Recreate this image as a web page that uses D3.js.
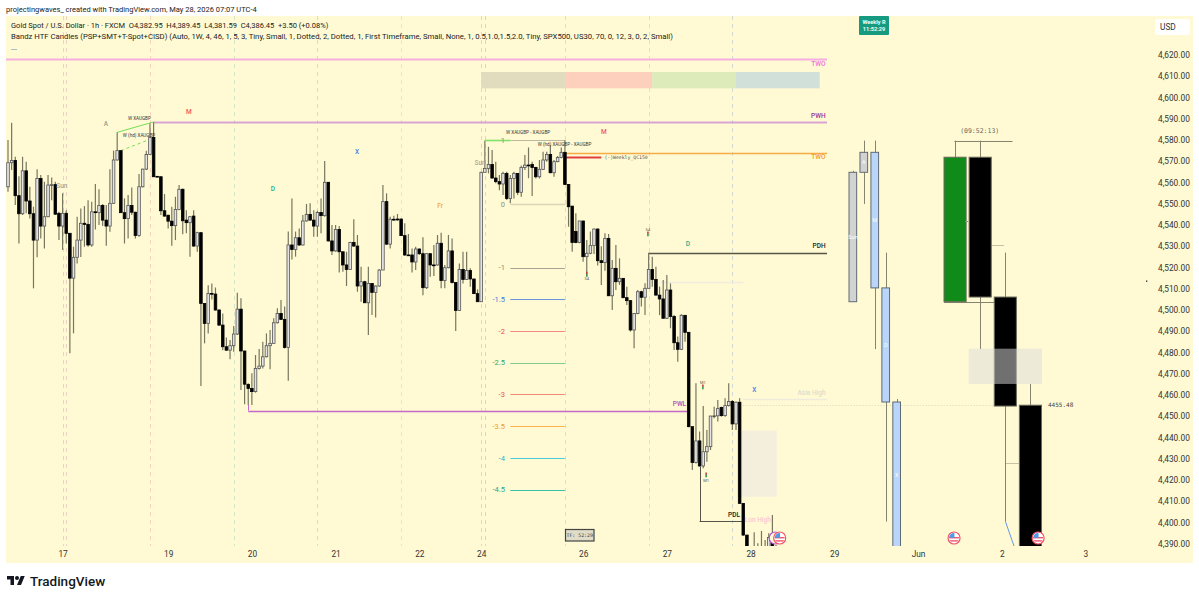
<!DOCTYPE html>
<html>
<head>
<meta charset="utf-8">
<title>XAUUSD 1h</title>
<script src="https://cdn.jsdelivr.net/npm/d3@7/dist/d3.min.js"></script>
<style>
html,body{margin:0;padding:0;background:#fff;}
svg{display:block;}
text{font-family:Roboto,"Open Sans",sans-serif;}
</style>
</head>
<body>
<svg id="chart" width="1199" height="600"></svg>
<script>
// Hourly gold candles, one entry per bar
const opens = [
4558.0,4569.3,4570.4,4553.8,4545.3,4565.5,4551.3,4545.3,4532.9,4561.9,
4539.5,4543.9,4558.8,4559.0,4545.5,4539.5,4545.5,4536.1,4515.0,4524.8,
4532.9,4540.8,4540.3,4530.6,4546.2,4545.8,4549.2,4542.3,4539.5,4550.2,
4570.6,4575.0,4545.8,4543.0,4549.2,4546.0,4535.1,4558.0,4566.3,4573.2,
4581.2,4562.9,4562.7,4546.7,4544.6,4541.8,4539.7,4547.3,4556.8,4542.3,
4541.1,4544.2,4530.1,4536.4,4503.1,4493.7,4507.8,4507.5,4500.0,4492.9,
4482.7,4481.1,4483.2,4488.7,4500.4,4480.7,4465.0,4463.1,4461.6,4472.5,
4473.6,4478.0,4483.2,4484.3,4494.0,4498.4,4495.6,4482.4,4530.6,4528.5,
4534.0,4530.6,4541.9,4545.0,4542.3,4539.5,4545.9,4544.4,4560.1,4532.5,
4527.8,4537.9,4527.4,4521.2,4519.1,4531.8,4530.1,4511.3,4513.3,4503.4,
4512.5,4508.3,4511.3,4518.8,4551.0,4531.0,4542.7,4542.8,4542.8,4535.0,
4525.9,4525.9,4522.6,4528.7,4526.5,4510.5,4526.5,4521.2,4521.2,4531.4,
4513.9,4519.9,4527.8,4512.9,4499.8,4519.1,4514.4,4518.6,4514.6,4507.7,
4503.9,4564.8,4566.6,4568.5,4562.1,4560.4,4559.3,4564.3,4552.5,4561.9,
4564.3,4555.4,4567.1,4568.2,4568.5,4567.1,4562.7,4566.2,4570.6,4573.2,
4564.6,4569.8,4571.8,4574.2,4559.1,4548.9,4536.9,4531.8,4541.9,4525.1,
4526.7,4530.3,4538.1,4523.2,4522.3,4533.7,4506.7,4519.6,4513.3,4514.9,
4505.8,4504.4,4490.6,4498.4,4508.6,4506.0,4510.2,4519.1,4514.4,4507.0,
4505.2,4496.1,4509.4,4496.9,4484.6,4481.5,4497.5,4489.5,4445.1,4428.2,
4438.4,4426.6,4433.3,4435.7,4450.1,4450.2,4454.1,4450.3,4455.0,4456.9,
4446.4,4456.6,4409.0,4394.1,4385,4384,4383,4382,4381,4385,4390.2,4382.95];
const highs = [
4580.0,4588.1,4572.1,4563.0,4572.1,4569.8,4558.0,4548.6,4566.2,4563.5,
4560.4,4563.5,4562.4,4560.4,4546.2,4554.9,4547.0,4536.1,4529.8,4543.9,
4547.8,4548.9,4551.7,4551.0,4559.3,4556.8,4549.9,4549.4,4566.2,4575.0,
4583.6,4575.0,4552.5,4554.1,4557.7,4546.2,4564.0,4566.5,4575.0,4587.8,
4588.4,4563.0,4562.9,4554.6,4544.8,4548.6,4553.3,4558.8,4557.2,4547.0,
4544.2,4547.0,4536.8,4536.4,4503.1,4511.7,4512.5,4510.6,4500.3,4498.4,
4487.1,4485.9,4492.5,4508.1,4505.5,4480.8,4465.5,4470.2,4478.8,4481.6,
4485.1,4489.0,4490.6,4496.1,4500.8,4504.7,4501.6,4536.9,4552.5,4536.9,
4538.4,4544.7,4549.9,4550.2,4547.0,4546.7,4552.5,4570.1,4560.1,4540.0,
4540.0,4539.5,4527.4,4527.4,4532.1,4542.7,4535.3,4520.4,4513.8,4520.4,
4512.5,4511.5,4519.3,4558.8,4554.9,4543.9,4544.4,4545.2,4543.1,4540.8,
4535.8,4529.0,4529.8,4529.0,4534.2,4526.7,4526.7,4530.6,4535.3,4536.4,
4521.2,4535.3,4533.7,4512.9,4521.9,4527.4,4527.4,4519.6,4514.6,4509.7,
4565.1,4579.7,4576.8,4575.3,4569.8,4563.5,4565.1,4565.1,4563.5,4565.1,
4564.3,4568.0,4572.9,4576.5,4569.8,4567.4,4570.6,4574.5,4574.5,4577.6,
4570.6,4572.5,4576.5,4580.0,4559.1,4549.0,4545.5,4541.9,4541.9,4532.9,
4536.9,4538.4,4538.4,4530.0,4536.1,4535.8,4523.5,4530.6,4524.3,4514.9,
4511.0,4504.7,4498.4,4509.4,4509.1,4512.6,4527.0,4525.1,4520.4,4511.0,
4514.1,4516.5,4512.5,4497.6,4487.5,4498.0,4497.5,4489.5,4445.1,4465.5,
4442.8,4454.8,4443.5,4450.2,4454.5,4457.7,4454.5,4458.5,4465.5,4457.7,
4456.9,4458.5,4409.0,4394.1,4385,4395.4,4390.2,4396,4391.8,4394.9,4403.5,4389.45];
const lows = [
4555.7,4565.9,4549.4,4531.3,4544.7,4545.5,4543.1,4510.2,4524.8,4533.7,
4529.0,4543.6,4551.7,4544.7,4532.9,4528.2,4531.3,4479.6,4489.0,4521.9,
4525.0,4529.8,4529.8,4529.8,4537.9,4540.0,4539.5,4530.2,4536.8,4550.0,
4570.4,4545.6,4531.3,4533.7,4544.7,4533.7,4534.5,4557.7,4565.9,4572.9,
4562.7,4562.5,4544.7,4543.9,4538.4,4530.2,4532.9,4547.0,4535.7,4536.1,
4525.1,4529.8,4527.4,4464.2,4484.3,4489.0,4505.0,4499.7,4492.5,4481.1,
4480.8,4476.8,4480.4,4488.2,4462.3,4455.7,4455.3,4455.3,4461.1,4472.0,
4472.5,4477.7,4472.1,4484.3,4493.7,4495.3,4481.9,4466.7,4523.8,4525.1,
4530.1,4530.4,4541.6,4542.0,4534.5,4534.5,4536.1,4543.9,4532.2,4525.9,
4527.4,4517.7,4518.0,4511.3,4518.8,4529.8,4508.6,4503.9,4503.4,4488.2,
4497.6,4496.5,4511.0,4518.8,4530.6,4529.0,4542.0,4542.0,4534.8,4525.4,
4525.7,4517.6,4518.8,4525.9,4507.0,4509.9,4515.7,4516.0,4520.9,4510.2,
4510.2,4519.6,4512.5,4490.1,4499.7,4512.5,4514.1,4511.0,4507.5,4503.9,
4503.9,4564.8,4564.3,4561.9,4559.6,4556.4,4554.1,4551.8,4550.2,4552.5,
4554.1,4553.3,4565.9,4562.0,4553.6,4561.9,4561.9,4565.9,4569.8,4564.3,
4562.7,4569.5,4571.4,4558.8,4539.2,4527.4,4531.4,4531.4,4522.7,4515.7,
4526.2,4526.4,4520.9,4511.8,4518.5,4506.6,4500.0,4509.4,4511.8,4505.5,
4502.3,4489.8,4482.0,4498.0,4501.6,4497.6,4510.2,4511.0,4507.0,4497.6,
4496.1,4495.8,4491.4,4481.2,4475.7,4481.2,4485.1,4444.8,4424.7,4427.8,
4426.3,4425.5,4428.6,4434.1,4449.1,4447.5,4449.8,4449.8,4454.6,4443.5,
4443.5,4409.0,4393.6,4383,4380,4380,4380,4380,4380,4380,4380,4381.59];
const closes = [
4569.3,4570.4,4553.8,4545.3,4565.5,4551.3,4545.3,4532.9,4561.9,4539.5,
4543.9,4558.8,4559.0,4545.1,4539.5,4545.5,4536.1,4515.0,4524.8,4532.9,
4540.8,4540.3,4530.6,4546.2,4546.0,4549.2,4542.3,4539.5,4550.2,4570.6,
4575.0,4545.8,4543.0,4549.2,4546.0,4535.1,4558.0,4566.3,4573.2,4581.2,
4562.7,4562.7,4546.7,4544.2,4541.8,4539.7,4547.3,4556.8,4542.0,4541.1,
4543.9,4530.1,4536.4,4503.1,4493.7,4507.8,4507.5,4500.0,4492.9,4482.7,
4481.1,4483.2,4488.7,4500.4,4480.7,4465.1,4463.1,4461.6,4472.5,4473.6,
4478.0,4483.2,4484.3,4494.0,4498.4,4495.6,4482.4,4530.6,4528.5,4534.0,
4530.6,4541.9,4545.0,4542.3,4539.5,4545.9,4544.4,4560.1,4532.5,4527.8,
4537.9,4527.4,4521.2,4519.1,4531.8,4530.1,4511.3,4513.3,4503.4,4512.5,
4508.3,4511.3,4518.8,4551.0,4531.0,4542.7,4542.4,4542.4,4535.0,4525.9,
4525.8,4522.6,4528.7,4526.5,4510.5,4526.5,4521.2,4521.0,4531.4,4513.9,
4519.9,4527.8,4512.9,4499.8,4519.1,4514.4,4518.6,4514.6,4507.7,4503.9,
4564.8,4566.6,4568.5,4562.1,4560.4,4559.3,4564.3,4552.5,4561.9,4564.3,
4555.4,4567.1,4568.2,4568.0,4567.1,4562.7,4566.2,4570.6,4573.2,4564.6,
4569.8,4571.8,4574.2,4559.1,4548.6,4531.8,4531.8,4541.9,4525.1,4526.7,
4530.3,4538.1,4523.2,4522.3,4533.7,4506.7,4519.6,4513.3,4514.9,4505.8,
4504.4,4490.6,4498.4,4508.6,4506.0,4510.2,4519.1,4514.4,4507.0,4505.2,
4496.1,4509.4,4496.9,4484.6,4481.5,4497.5,4489.5,4445.1,4428.2,4438.4,
4426.6,4433.3,4435.7,4450.1,4450.2,4453.6,4450.3,4455.0,4456.9,4446.4,
4456.6,4409.0,4394.1,4385,4384,4383,4382,4381,4385,4393,4383,4386.45];

// Price and time axes
const priceTicks = d3.range(4390, 4621, 10);
const dayTickBars = [15,44,67,90,113,130,158,181,204,227,250,273,296];
const dayLabels = ["17","19","20","21","22","24","26","27","28","29","Jun","2","3"];

// Session separators: bar index and tint
const sessionBars = [15,16,39,62,85,108,130,131,153,176,199];
const sessionTints = ["#ead3c8","#ead3c8","#fbd2bd","#d3e6c6","#d6dad0","#f9e0b5","#dcd8c4","#dcd8c4","#fbd2bd","#d3e6c6","#d0dbd8"];

// Weekly range strip across the top
const stripStart = [130,153,177,200];
const stripEnd = [153,177,200,223];
const stripHigh = 4612, stripLow = 4604.3;
const stripFill = ["#e0dcbd","#fcd0bd","#dcebb9","#d2e0da"];

// Fibonacci extension levels from the weekly swing
const fibLabels = ["1","0","-1","-1.5","-2","-2.5","-3","-3.5","-4","-4.5"];
const fibPrices = [4579.8,4549.9,4520.0,4505.1,4490.1,4475.2,4460.3,4445.3,4430.4,4415.5];
const fibLine = ["#bdb9a0","#d9d5b9","#a8a392","#6a93dc","#f08a84","#84cc8a","#f08a78","#f6b44a","#4accdf","#35c2a6"];
const fibText = ["#8f8f80","#8f8f80","#8a8a7c","#3f78e0","#e2504f","#2fa765","#e2504f","#f09a1e","#1fb4d4","#1aa88e"];

// Reference lines: [price, from bar, to bar]
const refPrices = [4618.1,4588.5,4574.1,4526.8,4452.7,4400.5,4458.1,4513.2,4572.0];
const refFrom = [-2,40,153,176,66,190,202,179,153];
const refTo = [225,225,225,225,187,202,225,202,163];
const refStroke = ["#f5aee0","#d9a3d3","#f6ac45","#55554a","#c568c8","#55554a","#efebdc","#f0ecdf","#e0403f"];
const refThick = [2,2,1.5,1.3,1.3,1,1.5,1.5,2];

// Line end tags
const tagText = ["TWO","PWH","TWO","PDH","Asia High"];
const tagPrice = [4615.8,4591.3,4572.0,4530.1,4461.0];
const tagFill = ["#ee70dd","#9b2f9b","#f39a2a","#222","#dedacb"];

// Session letters over the candles
const sessText = ["M","A","D","X","Fr","Sun","Sun","M","D","X"];
const sessBar = [49.7,26.9,72.8,95.9,118.7,14.8,129.7,163.7,186.8,205];
const sessPrice = [4593.2,4588,4557.4,4574.8,4549.4,4558.8,4569.6,4584.2,4531.5,4462.8];
const sessFill = ["#ee5a5a","#9a9a8c","#27a98a","#4d7de8","#f3a63a","#a9a99c","#a9a99c","#ee5a5a","#27a98a","#4d7de8"];

// Divergence captions
const smtText = ["W XAUGBP","W (hd) XAUGBP","W XAUGBP - XAUGBP","W (hd) XAUGBP - XAUGBP"];
const smtBar = [36.1,36,142.9,152.9];
const smtPrice = [4589.9,4581.9,4583.3,4578];

// Small swing markers
const pinText = ["S4","S4","M1","M1"];
const pinBar = [175.8,159,190.9,191.8];
const pinTextPrice = [4538.1,4514.6,4466.1,4420];
const pinMarkPrice = [4535.8,4516.9,4463.8,4422.4];

// Higher timeframe candles: session group then weekly group
const htfNames = ["Sun","A","M","D","X"];
const htfOpen = [4503.9,4564.8,4574.2,4510.4,4456.7];
const htfHigh = [4565.5,4579.7,4579.7,4527,4458.1];
const htfLow = [4503.9,4549.9,4481.6,4400.4,4381.6];
const htfClose = [4564.8,4574.2,4510.4,4456.7,4386.45];
const htfTextPrice = [4534.5,4569.6,4542.4,4483.5,4422.4];
const htfFill = ["#d2d2d2","#d2d2d2","#b9d5fa","#b9d5fa","#b9d5fa"];

const bigNames = ["W1","W2","W3","W4"];
const bigOpen = [4503.9,4571.9,4506.1,4455.2];
const bigHigh = [4579.7,4579.7,4527,4465.2];
const bigLow = [4503.9,4481.6,4400.4,4381.6];
const bigClose = [4571.9,4506.1,4454.8,4386.45];
const bigFill = ["#108a18","#000","#000","#000"];

// Economic event flags on the time line
const flagBars = [212,259.9,283];
const flagPrice = 4392.7;

const svg = d3.select("#chart");
const plot = {left:6, right:1193, top:16, bottom:563, clip:546};

const x = d3.scaleLinear().domain([0,100]).range([8,372]);
const y = d3.scaleLinear().domain([4390,4620]).range([543.75,55]);
const bx = i => Math.round(x(i));
const py = p => Math.round(y(p));

svg.append("defs").append("clipPath").attr("id","pane")
  .append("rect").attr("x",plot.left).attr("y",plot.top)
  .attr("width",plot.right-plot.left).attr("height",plot.clip-plot.top);

// Pane background
svg.append("rect").attr("x",plot.left).attr("y",plot.top)
  .attr("width",plot.right-plot.left).attr("height",plot.bottom-plot.top)
  .attr("fill","#fffad3");

const pane = svg.append("g").attr("clip-path","url(#pane)");

// Session separators
pane.append("g").selectAll("line").data(sessionBars).join("line")
  .attr("x1",d=>bx(d)+.5).attr("x2",d=>bx(d)+.5)
  .attr("y1",plot.top).attr("y2",plot.clip)
  .attr("stroke",(d,i)=>sessionTints[i]).attr("stroke-dasharray","4 4");

// Weekly strip
pane.append("g").selectAll("rect").data(stripStart).join("rect")
  .attr("x",d=>x(d)).attr("width",(d,i)=>x(stripEnd[i])-x(d))
  .attr("y",y(stripHigh)).attr("height",y(stripLow)-y(stripHigh))
  .attr("fill",(d,i)=>stripFill[i]);

// Imbalance box below the last candles
pane.append("rect")
  .attr("x",x(200.3)).attr("width",x(211.2)-x(200.3))
  .attr("y",y(4443.2)).attr("height",y(4412.1)-y(4443.2))
  .attr("fill","#f3efdc");

// Reference lines
pane.append("g").selectAll("line").data(refPrices).join("line")
  .attr("x1",(d,i)=>x(refFrom[i])).attr("x2",(d,i)=>x(refTo[i]))
  .attr("y1",d=>py(d)+.5).attr("y2",d=>py(d)+.5)
  .attr("stroke",(d,i)=>refStroke[i]).attr("stroke-width",(d,i)=>refThick[i]);

// Stems joining PWL and PDL back to their source bars
pane.append("line").attr("x1",bx(66)+.5).attr("x2",bx(66)+.5)
  .attr("y1",y(4455.3)).attr("y2",y(4452.7)).attr("stroke","#c568c8");
pane.append("line").attr("x1",bx(190)+.5).attr("x2",bx(190)+.5)
  .attr("y1",y(4426.3)).attr("y2",py(4400.5)+.5).attr("stroke","#55554a");

// Prior session close dotted
pane.append("line").attr("x1",x(201)).attr("x2",x(284))
  .attr("y1",py(4455.48)+.5).attr("y2",py(4455.48)+.5)
  .attr("stroke","#d8d4bc").attr("stroke-dasharray","1 2");

// Fibonacci levels
pane.append("g").selectAll("line").data(fibPrices).join("line")
  .attr("x1",x(138)).attr("x2",x(153))
  .attr("y1",d=>py(d)+.5).attr("y2",d=>py(d)+.5)
  .attr("stroke",(d,i)=>fibLine[i]).attr("stroke-width",(d,i)=>i===1?1.6:1);
pane.append("line").attr("x1",x(131)).attr("x2",x(138))
  .attr("y1",py(fibPrices[0])+.5).attr("y2",py(fibPrices[0])+.5)
  .attr("stroke","#7fe36a").attr("stroke-width",1.6);

// Swing links on the first high
pane.append("line").attr("x1",x(30)).attr("y1",y(4583.6)).attr("x2",x(40)).attr("y2",y(4588.5))
  .attr("stroke","#74dd55").attr("stroke-width",1);
pane.append("line").attr("x1",x(31)).attr("y1",y(4575)).attr("x2",x(38.5)).attr("y2",y(4580))
  .attr("stroke","#74dd55").attr("stroke-width",1).attr("stroke-dasharray","3 3");

// Hourly candles
const bars = d3.range(opens.length);
pane.append("g").selectAll("line").data(bars).join("line")
  .attr("x1",i=>x(i)).attr("x2",i=>x(i))
  .attr("y1",i=>y(highs[i])).attr("y2",i=>y(lows[i]))
  .attr("stroke","#77775f").attr("stroke-width",1.2);
pane.append("g").selectAll("rect").data(bars).join("rect")
  .attr("x",i=>x(i)-1.3).attr("width",2.6)
  .attr("y",i=>y(Math.max(opens[i],closes[i])))
  .attr("height",i=>Math.max(.8,Math.abs(y(opens[i])-y(closes[i]))))
  .attr("fill",i=>closes[i]>=opens[i]?"#e4e4e4":"#000")
  .attr("stroke",i=>closes[i]>=opens[i]?"#555":"#000").attr("stroke-width",.8);

// Session candles on the right
const htfBand = d3.scaleBand().domain(htfNames).range([849,900.5]).paddingInner(.3);
const htfIdx = htfNames.map((d,i)=>i);
const htf = pane.append("g");
htf.selectAll("line").data(htfIdx).join("line")
  .attr("x1",i=>Math.round(htfBand(htfNames[i])+htfBand.bandwidth()/2)+.5)
  .attr("x2",i=>Math.round(htfBand(htfNames[i])+htfBand.bandwidth()/2)+.5)
  .attr("y1",i=>y(htfHigh[i])).attr("y2",i=>y(htfLow[i]))
  .attr("stroke","#85856f");
htf.selectAll("rect").data(htfIdx).join("rect")
  .attr("x",i=>htfBand(htfNames[i])).attr("width",htfBand.bandwidth())
  .attr("y",i=>y(Math.max(htfOpen[i],htfClose[i])))
  .attr("height",i=>Math.abs(y(htfOpen[i])-y(htfClose[i])))
  .attr("fill",i=>htfFill[i]).attr("stroke","#5f6a75");
htf.selectAll("text").data(htfIdx).join("text")
  .attr("x",i=>htfBand(htfNames[i])+htfBand.bandwidth()/2)
  .attr("y",i=>y(htfTextPrice[i])+2)
  .attr("text-anchor","middle").attr("font-size",5.5).attr("fill","#fff")
  .text(i=>htfNames[i]);

// Weekly candles on the right
const bigBand = d3.scaleBand().domain(bigNames).range([944,1041.5]).paddingInner(.12);
const bigIdx = bigNames.map((d,i)=>i);
const big = pane.append("g");
// Bracket and close ties around the weekly candles
big.append("line").attr("x1",954.5).attr("x2",1012.5).attr("y1",py(4579.7)+.5).attr("y2",py(4579.7)+.5).attr("stroke","#85856f");
big.append("line").attr("x1",944).attr("x2",994).attr("y1",py(4503.9)+.5).attr("y2",py(4503.9)+.5).attr("stroke","#85856f");
big.selectAll("line.wick").data(bigIdx).join("line").attr("class","wick")
  .attr("x1",i=>Math.round(bigBand(bigNames[i])+bigBand.bandwidth()/2)+.5)
  .attr("x2",i=>Math.round(bigBand(bigNames[i])+bigBand.bandwidth()/2)+.5)
  .attr("y1",i=>y(bigHigh[i])).attr("y2",i=>y(bigLow[i]))
  .attr("stroke","#85856f");
big.selectAll("rect").data(bigIdx).join("rect")
  .attr("x",i=>bigBand(bigNames[i])).attr("width",bigBand.bandwidth())
  .attr("y",i=>y(Math.max(bigOpen[i],bigClose[i])))
  .attr("height",i=>Math.abs(y(bigOpen[i])-y(bigClose[i])))
  .attr("fill",i=>bigFill[i]).attr("stroke","#6a6a5c");

// Midpoint ticks between the weekly candles
big.append("line").attr("x1",991.5).attr("x2",1004).attr("y1",245.5).attr("y2",245.5)
  .attr("stroke","#8a8a7a").attr("stroke-dasharray","1 1");
big.append("line").attr("x1",965).attr("x2",968.5).attr("y1",221.5).attr("y2",221.5)
  .attr("stroke","#8a8a7a").attr("stroke-dasharray","1 1");
big.append("line").attr("x1",1006.5).attr("x2",1019.5).attr("y1",463.5).attr("y2",463.5)
  .attr("stroke","#8a8a7a").attr("stroke-dasharray","1 1");
big.append("line").attr("x1",1005.5).attr("y1",y(4400.4)).attr("x2",1014).attr("y2",546)
  .attr("stroke","#6b97ea");

// Translucent consequent band across the weekly candles
pane.append("rect").attr("x",968.7).attr("width",73.3)
  .attr("y",y(4481.8)).attr("height",y(4465.2)-y(4481.8))
  .attr("fill","rgb(220,220,220)").attr("fill-opacity",.51);

// Tags and captions
const labels = svg.append("g");
labels.selectAll("text.fib").data(fibLabels).join("text").attr("class","fib")
  .attr("x",x(136.5)).attr("y",(d,i)=>y(fibPrices[i])+2.6)
  .attr("text-anchor","end").attr("font-size",7.5)
  .attr("fill",(d,i)=>fibText[i]).text(d=>d);
labels.selectAll("text.tag").data(tagText).join("text").attr("class","tag")
  .attr("x",x(224.6)).attr("y",(d,i)=>y(tagPrice[i])+2)
  .attr("text-anchor","end").attr("font-size",6.5).attr("font-weight",500)
  .attr("fill",(d,i)=>tagFill[i]).text(d=>d);
const tag = (t,bar,price,fill,anchor) => labels.append("text")
  .attr("x",x(bar)).attr("y",y(price)+2).attr("text-anchor",anchor)
  .attr("font-size",6.5).attr("font-weight",500).attr("fill",fill).text(t);
tag("PWL",186.3,4455.8,"#b64ab9","end");
tag("PDL",201.1,4403.5,"#222","end");
tag("Lon High",206,4401.2,"#fbc4d4","middle");

labels.selectAll("text.sess").data(sessText).join("text").attr("class","sess")
  .attr("x",(d,i)=>x(sessBar[i])).attr("y",(d,i)=>y(sessPrice[i])+2.5)
  .attr("text-anchor","middle").attr("font-size",6.5).attr("font-weight",500)
  .attr("fill",(d,i)=>sessFill[i]).text(d=>d);

labels.selectAll("text.smt").data(smtText).join("text").attr("class","smt")
  .attr("x",(d,i)=>x(smtBar[i])).attr("y",(d,i)=>y(smtPrice[i])+1.5)
  .attr("text-anchor","middle").attr("font-size",4.6).attr("fill","#333").text(d=>d);

labels.append("text").attr("x",x(169.8)).attr("y",y(4572)+1.5)
  .attr("text-anchor","middle").attr("font-size",4.8).attr("fill","#555")
  .attr("style","font-family:'DejaVu Sans Mono',monospace").text("(-)Weekly_QC150");

labels.append("text").attr("x",979.7).attr("y",133)
  .attr("text-anchor","middle").attr("font-size",6.5).attr("fill","#6a6a60")
  .attr("style","font-family:'DejaVu Sans Mono',monospace").text("(09:52:13)");

labels.append("text").attr("x",1048).attr("y",y(4455.48)+2)
  .attr("font-size",6).attr("fill","#444")
  .attr("style","font-family:'DejaVu Sans Mono',monospace").text("4455.48");

// Swing markers: tiny caption and a two tone tick
const pins = svg.append("g");
pins.selectAll("text").data(pinText).join("text")
  .attr("x",(d,i)=>x(pinBar[i])).attr("y",(d,i)=>y(pinTextPrice[i])+1.5)
  .attr("text-anchor","middle").attr("font-size",4).attr("fill","#555").text(d=>d);
pins.selectAll("rect.r").data(pinBar).join("rect").attr("class","r")
  .attr("x",d=>x(d)-.8).attr("width",1.6).attr("y",(d,i)=>y(pinMarkPrice[i])-2.4).attr("height",2.4).attr("fill","#b5483c");
pins.selectAll("rect.g").data(pinBar).join("rect").attr("class","g")
  .attr("x",d=>x(d)-.8).attr("width",1.6).attr("y",(d,i)=>y(pinMarkPrice[i])).attr("height",2.4).attr("fill","#3c9a54");

// Countdown box
const tf = svg.append("g");
tf.append("rect").attr("x",565.5).attr("y",529.5).attr("width",28.5).attr("height",11.5)
  .attr("fill","#e0dcc8").attr("stroke","#444").attr("stroke-width",1.2);
tf.append("text").attr("x",579.7).attr("y",537.2).attr("text-anchor","middle")
  .attr("font-size",4.9).attr("fill","#333")
  .attr("style","font-family:'DejaVu Sans Mono',monospace").text("TF: 52:29");

// Weekly countdown badge
const wk = svg.append("g");
wk.append("rect").attr("x",859).attr("y",16).attr("width",30).attr("height",19).attr("rx",1).attr("fill","#169b80");
wk.append("text").attr("x",874).attr("y",23.5).attr("text-anchor","middle").attr("font-size",5.6)
  .attr("font-weight",700).attr("fill","#eafff8").text("Weekly R");
wk.append("text").attr("x",874).attr("y",31).attr("text-anchor","middle").attr("font-size",5.6)
  .attr("font-weight",700).attr("fill","#eafff8").text("11:52:29");

// Event flags
const flagLayer = svg.append("g");
flagLayer.append("circle").attr("cx",x(212)-4.5).attr("cy",y(flagPrice)).attr("r",6)
  .attr("fill","#fffad3").attr("stroke","#b05ad0").attr("stroke-width",1.2);
flagBars.forEach((b,k)=>{
  const fx = x(b), fy = y(flagPrice), id = "flagclip"+k;
  const g = flagLayer.append("g");
  g.append("clipPath").attr("id",id).append("circle").attr("cx",fx).attr("cy",fy).attr("r",5);
  g.append("circle").attr("cx",fx).attr("cy",fy).attr("r",6).attr("fill","#fff").attr("stroke","#f0566a").attr("stroke-width",1.2);
  const s = g.append("g").attr("clip-path",`url(#${id})`);
  s.append("rect").attr("x",fx-6).attr("y",fy-6).attr("width",12).attr("height",12).attr("fill","#fff");
  s.append("rect").attr("x",fx-6).attr("y",fy-1).attr("width",12).attr("height",1.4).attr("fill","#f0566a");
  s.append("rect").attr("x",fx-6).attr("y",fy+2.2).attr("width",12).attr("height",1.4).attr("fill","#f0566a");
  s.append("rect").attr("x",fx-6).attr("y",fy-6).attr("width",6.4).attr("height",5.8).attr("fill","#4f9ae8");
});

// Stray cross hair dot
svg.append("rect").attr("x",1146).attr("y",280.5).attr("width",1.3).attr("height",1.3).attr("fill","#222");

// Price axis
const priceAxis = d3.axisRight(y).tickValues(priceTicks).tickSize(0).tickPadding(0)
  .tickFormat(d3.format(",.2f"));
svg.append("g").attr("transform","translate(1158,0)").call(priceAxis)
  .call(g=>g.select(".domain").remove())
  .call(g=>g.selectAll("text").attr("font-size",8.3).attr("fill","#333")
    .attr("style","font-family:Roboto,sans-serif"));

// Time axis
const timeAxis = d3.axisBottom(x).tickValues(dayTickBars).tickSize(0).tickPadding(0)
  .tickFormat((d,i)=>dayLabels[i]);
svg.append("g").attr("transform","translate(0,551.5)").call(timeAxis)
  .call(g=>g.select(".domain").remove())
  .call(g=>g.selectAll("text").attr("font-size",8.3).attr("fill","#333")
    .attr("style","font-family:Roboto,sans-serif"));

// Currency badge
svg.append("rect").attr("x",1155).attr("y",19).attr("width",35).attr("height",16).attr("rx",2)
  .attr("fill","#fff");
svg.append("text").attr("x",1160).attr("y",30).attr("font-size",8.3).attr("fill","#333").text("USD");

// Chart headers
const head = [
  ["projectingwaves_ created with TradingView.com, May 28, 2026 07:07 UTC-4",6,12,7.5],
  ["Gold Spot / U.S. Dollar · 1h · FXCM  O4,382.95  H4,389.45  L4,381.59  C4,386.45  +3.50 (+0.08%)",11,28,7.5],
  ["Bandz HTF Candles (PSP+SMT+T-Spot+CISD) (Auto, 1W, 4, 46, 1, 5, 3, Tiny, Small, 1, Dotted, 2, Dotted, 1, First Timeframe, Small, None, 1, 0.5,1.0,1.5,2.0, Tiny, SPX500, US30, 70, 0, 12, 3, 0, 2, Small)",11,39,7.72],
  ["...",11,50,7.7]
];
svg.append("g").selectAll("text").data(head).join("text")
  .attr("x",d=>d[1]).attr("y",d=>d[2]).attr("font-size",d=>d[3]).attr("fill","#222")
  .attr("xml:space","preserve").text(d=>d[0]);

// Brand mark
const brand = svg.append("g").attr("transform","translate(7,574)");
brand.append("g").attr("transform","scale(.5)").call(g=>{
  g.append("path").attr("d","M14 22H7V11H0V4h14v18zM28 22h-8l7.5-18h8L28 22z").attr("fill","#131722");
  g.append("circle").attr("cx",20).attr("cy",8).attr("r",4).attr("fill","#131722");
});
svg.append("text").attr("x",30).attr("y",586).attr("font-size",13.5).attr("font-weight",500)
  .attr("fill","#131722").text("TradingView");
</script>
</body>
</html>
